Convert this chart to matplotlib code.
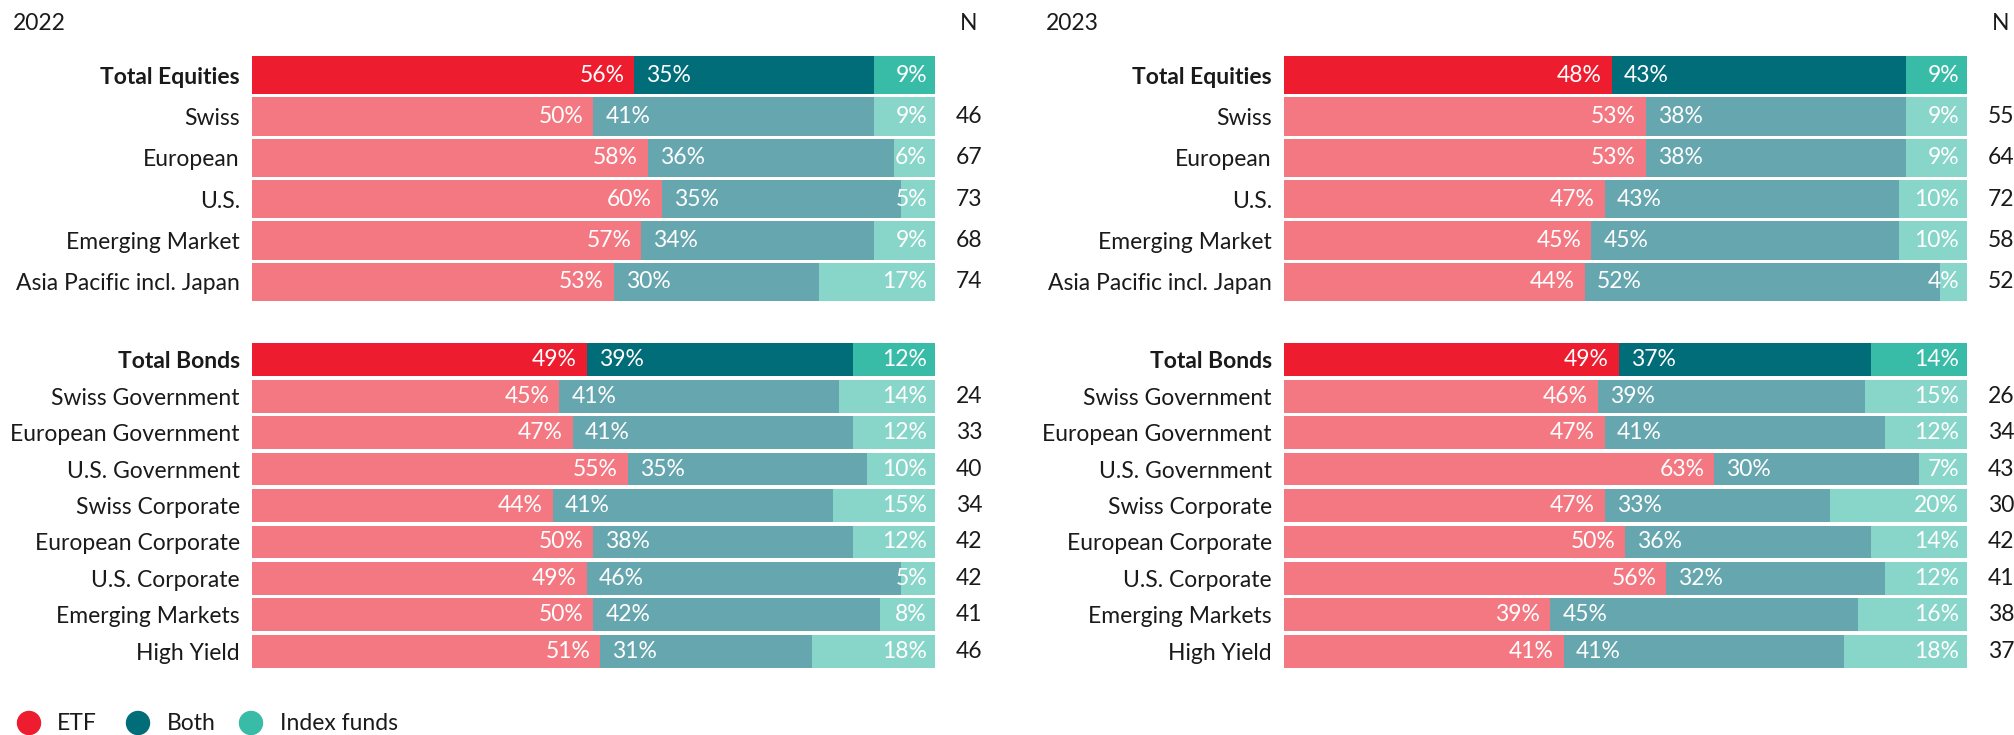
import matplotlib
matplotlib.use("Agg")
import matplotlib.pyplot as plt
from matplotlib.patches import Ellipse
from matplotlib.transforms import blended_transform_factory

plt.rcParams['font.family'] = ['Lato', 'DejaVu Sans']

W, H, DPI = 2015, 735, 100

# ---------------- data ----------------
years = ["2022", "2023"]
series = ["ETF", "Both", "Index funds"]

eq_cats = ["Total Equities", "Swiss", "European", "U.S.", "Emerging Market",
           "Asia Pacific incl. Japan"]
bond_cats = ["Total Bonds", "Swiss Government", "European Government", "U.S. Government",
             "Swiss Corporate", "European Corporate", "U.S. Corporate",
             "Emerging Markets", "High Yield"]

etf_eq_2022 = [56, 50, 58, 60, 57, 53]
both_eq_2022 = [35, 41, 36, 35, 34, 30]
idx_eq_2022 = [9, 9, 6, 5, 9, 17]
n_eq_2022 = [None, 46, 67, 73, 68, 74]

etf_bd_2022 = [49, 45, 47, 55, 44, 50, 49, 50, 51]
both_bd_2022 = [39, 41, 41, 35, 41, 38, 46, 42, 31]
idx_bd_2022 = [12, 14, 12, 10, 15, 12, 5, 8, 18]
n_bd_2022 = [None, 24, 33, 40, 34, 42, 42, 41, 46]

etf_eq_2023 = [48, 53, 53, 47, 45, 44]
both_eq_2023 = [43, 38, 38, 43, 45, 52]
idx_eq_2023 = [9, 9, 9, 10, 10, 4]
n_eq_2023 = [None, 55, 64, 72, 58, 52]

etf_bd_2023 = [49, 46, 47, 63, 47, 50, 56, 39, 41]
both_bd_2023 = [37, 39, 41, 30, 33, 36, 32, 45, 41]
idx_bd_2023 = [14, 15, 12, 7, 20, 14, 12, 16, 18]
n_bd_2023 = [None, 26, 34, 43, 30, 42, 41, 38, 37]

# ---------------- style ----------------
dark = ["#ED1C2E", "#006D79", "#38BBA7"]
light = ["#F37882", "#66A6AE", "#88D6C9"]
TXT = "#1a1a1a"
FS = 16.5
PT = 72.0 / DPI  # points per pixel

fig = plt.figure(figsize=(W / DPI, H / DPI), dpi=DPI)


def px_axes(left, top, right, bottom):
    return fig.add_axes([left / W, 1 - bottom / H, (right - left) / W, (bottom - top) / H])


def draw_block(ax, cats, etf, both, idx, ns, height, width_px):
    n = len(cats)
    tr = blended_transform_factory(ax.transAxes, ax.transData)
    for i in range(n):
        cols = dark if i == 0 else light
        vals = [etf[i], both[i], idx[i]]
        total = sum(vals)
        vals = [v * 100.0 / total for v in vals]
        left = 0
        for j, v in enumerate(vals):
            ax.barh(i, v, left=left, height=height, color=cols[j], edgecolor='none')
            left += v
        ax.annotate(f"{etf[i]}%", (vals[0], i), xytext=(-10 * PT, 0), textcoords='offset points',
                    ha='right', va='center', color='white', fontsize=FS)
        ax.annotate(f"{both[i]}%", (vals[0], i), xytext=(12 * PT, 0), textcoords='offset points',
                    ha='left', va='center', color='white', fontsize=FS)
        ax.annotate(f"{idx[i]}%", (100, i), xytext=(-8 * PT, 0), textcoords='offset points',
                    ha='right', va='center', color='white', fontsize=FS)
        if ns[i] is not None:
            ax.text(1 + 34 / width_px, i, str(ns[i]), transform=tr, ha='center', va='center',
                    fontsize=FS, color=TXT)
    ax.set_xlim(0, 100)
    ax.set_ylim(n - 0.5, -0.5)
    ax.set_yticks(range(n))
    ax.set_yticklabels(cats, fontsize=FS, color=TXT)
    ax.get_yticklabels()[0].set_fontweight('bold')
    ax.tick_params(axis='y', length=0, pad=12 * PT)
    ax.set_xticks([])
    for s in ax.spines.values():
        s.set_visible(False)
    ax.patch.set_alpha(0)


panels = [
    (252, 935, 13, 969, etf_eq_2022, both_eq_2022, idx_eq_2022, n_eq_2022,
     etf_bd_2022, both_bd_2022, idx_bd_2022, n_bd_2022),
    (1284, 1967, 1046, 2001, etf_eq_2023, both_eq_2023, idx_eq_2023, n_eq_2023,
     etf_bd_2023, both_bd_2023, idx_bd_2023, n_bd_2023),
]

for k, (x0, x1, tx, nx, e1, b1, i1, n1, e2, b2, i2, n2) in enumerate(panels):
    ax1 = px_axes(x0, 54.5, x1, 302.5)
    draw_block(ax1, eq_cats, e1, b1, i1, n1, 0.92, x1 - x0)
    ax2 = px_axes(x0, 341.5, x1, 669.5)
    draw_block(ax2, bond_cats, e2, b2, i2, n2, 0.90, x1 - x0)
    fig.text(tx / W, 1 - 23 / H, years[k], ha='left', va='center', fontsize=FS, color=TXT)
    fig.text(nx / W, 1 - 23 / H, "N", ha='center', va='center', fontsize=FS, color=TXT)

# legend
leg_y = 1 - 723 / H
cx = [29, 138, 251]
tx_leg = [57, 167, 280]
for c, x, t, lab in zip(dark, cx, tx_leg, series):
    fig.patches.append(Ellipse((x / W, leg_y), 23 / W, 23 / H,
                               transform=fig.transFigure, color=c))
    fig.text(t / W, leg_y, lab, ha='left', va='center', fontsize=FS, color=TXT)

fig.savefig("out.png", dpi=DPI)
